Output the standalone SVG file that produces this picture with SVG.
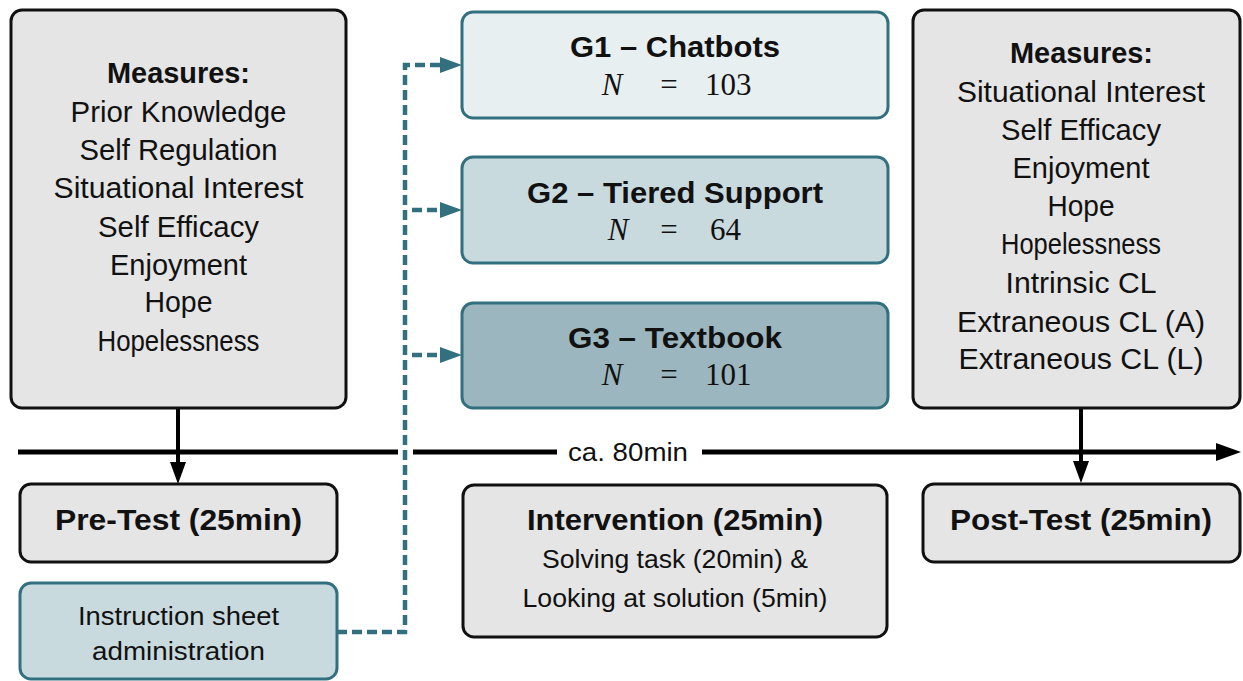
<svg xmlns="http://www.w3.org/2000/svg" width="1243" height="681" viewBox="0 0 1243 681">
<defs>
<style>
.box{fill:#e5e5e5;stroke:#111;stroke-width:3}
.tbox{stroke:#33707f;stroke-width:3}
.t{font-family:"Liberation Sans",Arial,sans-serif;font-size:29px;fill:#111;text-anchor:middle}
.b{font-weight:bold}
.s{font-size:25px}
.m{font-family:"Liberation Serif","Times New Roman",serif;font-size:31px;fill:#111}
.dash{fill:none;stroke:#33707f;stroke-width:4.5;stroke-dasharray:10 5}
.blk{fill:none;stroke:#000;stroke-width:4}
.tl{fill:none;stroke:#000;stroke-width:5}
</style>
<marker id="ahT" viewBox="0 0 22 16" refX="0" refY="8" markerWidth="22" markerHeight="16" markerUnits="userSpaceOnUse" orient="auto"><path d="M0,0 L22,8 L0,16 z" fill="#33707f"/></marker>
<marker id="ahB" viewBox="0 0 22 16" refX="0" refY="8" markerWidth="22" markerHeight="16" markerUnits="userSpaceOnUse" orient="auto"><path d="M0,0 L22,8 L0,16 z" fill="#000"/></marker>
</defs>
<rect width="1243" height="681" fill="#fff"/>

<g id="connectors">
<line class="tl" x1="18" y1="452" x2="398" y2="452"/>
<line class="tl" x1="413" y1="452" x2="557" y2="452"/>
<line class="tl" x1="702" y1="452" x2="1218" y2="452"/>
<polygon points="1216,443 1241,452 1216,461" fill="#000"/>
<text class="t" x="628" y="461" style="font-size:26px" textLength="120" lengthAdjust="spacingAndGlyphs">ca. 80min</text>
<path class="dash" d="M337,632 H405 V65 H440" marker-end="url(#ahT)"/>
<path class="dash" d="M412,210 H440" marker-end="url(#ahT)"/>
<path class="dash" d="M412,355 H440" marker-end="url(#ahT)"/>
<line class="blk" x1="178" y1="408" x2="178" y2="462" marker-end="url(#ahB)"/>
<line class="blk" x1="1081" y1="408" x2="1081" y2="461" marker-end="url(#ahB)"/>
</g>

<g id="pre-measures">
<rect class="box" x="11" y="10" width="335" height="398" rx="11"/>
<text class="t b" x="178.5" y="83" textLength="143" lengthAdjust="spacingAndGlyphs">Measures:</text>
<text class="t" x="178.5" y="122" textLength="216" lengthAdjust="spacingAndGlyphs">Prior Knowledge</text>
<text class="t" x="178.5" y="160" textLength="198" lengthAdjust="spacingAndGlyphs">Self Regulation</text>
<text class="t" x="178.5" y="198" textLength="250" lengthAdjust="spacingAndGlyphs">Situational Interest</text>
<text class="t" x="178.5" y="237" textLength="161" lengthAdjust="spacingAndGlyphs">Self Efficacy</text>
<text class="t" x="178.5" y="275" textLength="137" lengthAdjust="spacingAndGlyphs">Enjoyment</text>
<text class="t" x="178.5" y="312" textLength="68" lengthAdjust="spacingAndGlyphs">Hope</text>
<text class="t" x="178.5" y="351" textLength="162" lengthAdjust="spacingAndGlyphs">Hopelessness</text>
</g>

<g id="g1">
<rect class="tbox" x="462" y="12" width="426" height="106" rx="11" fill="#e8eff1"/>
<text class="t b" x="675" y="57" textLength="210" lengthAdjust="spacingAndGlyphs">G1 – Chatbots</text>
<text class="m" x="612" y="95" text-anchor="middle" font-style="italic">N</text>
<text class="m" x="669" y="95" text-anchor="middle">=</text>
<text class="m" x="705" y="95">103</text>
</g>

<g id="g2">
<rect class="tbox" x="462" y="157" width="426" height="106" rx="11" fill="#c9dadf"/>
<text class="t b" x="675" y="203" textLength="296" lengthAdjust="spacingAndGlyphs">G2 – Tiered Support</text>
<text class="m" x="618" y="240" text-anchor="middle" font-style="italic">N</text>
<text class="m" x="669" y="240" text-anchor="middle">=</text>
<text class="m" x="710" y="240">64</text>
</g>

<g id="g3">
<rect class="tbox" x="462" y="303" width="426" height="105" rx="11" fill="#9bb6be"/>
<text class="t b" x="675" y="348" textLength="214" lengthAdjust="spacingAndGlyphs">G3 – Textbook</text>
<text class="m" x="612" y="385" text-anchor="middle" font-style="italic">N</text>
<text class="m" x="669" y="385" text-anchor="middle">=</text>
<text class="m" x="705" y="385">101</text>
</g>

<g id="post-measures">
<rect class="box" x="913" y="10" width="327" height="398" rx="11"/>
<text class="t b" x="1081.5" y="63" textLength="143" lengthAdjust="spacingAndGlyphs">Measures:</text>
<text class="t" x="1081" y="102" textLength="248" lengthAdjust="spacingAndGlyphs">Situational Interest</text>
<text class="t" x="1081" y="140" textLength="160" lengthAdjust="spacingAndGlyphs">Self Efficacy</text>
<text class="t" x="1081" y="178" textLength="137" lengthAdjust="spacingAndGlyphs">Enjoyment</text>
<text class="t" x="1081" y="216" textLength="67" lengthAdjust="spacingAndGlyphs">Hope</text>
<text class="t" x="1081" y="254" textLength="160" lengthAdjust="spacingAndGlyphs">Hopelessness</text>
<text class="t" x="1081" y="293" textLength="151" lengthAdjust="spacingAndGlyphs">Intrinsic CL</text>
<text class="t" x="1081" y="332" textLength="248" lengthAdjust="spacingAndGlyphs">Extraneous CL (A)</text>
<text class="t" x="1081" y="369" textLength="245" lengthAdjust="spacingAndGlyphs">Extraneous CL (L)</text>
</g>

<g id="pre-test">
<rect class="box" x="20" y="484" width="317" height="78" rx="11"/>
<text class="t b" x="178.5" y="530" textLength="247" lengthAdjust="spacingAndGlyphs">Pre-Test (25min)</text>
</g>

<g id="instruction">
<rect class="tbox" x="20" y="583" width="317" height="96" rx="11" fill="#c9dadf"/>
<text class="t" x="178.5" y="625" style="font-size:26px" textLength="201" lengthAdjust="spacingAndGlyphs">Instruction sheet</text>
<text class="t" x="178.5" y="660" style="font-size:26px" textLength="173" lengthAdjust="spacingAndGlyphs">administration</text>
</g>

<g id="intervention">
<rect class="box" x="463" y="485" width="424" height="152" rx="11"/>
<text class="t b" x="675" y="530" textLength="296" lengthAdjust="spacingAndGlyphs">Intervention (25min)</text>
<text class="t s" x="675" y="568" textLength="266" lengthAdjust="spacingAndGlyphs">Solving task (20min) &amp;</text>
<text class="t s" x="675" y="607" textLength="305" lengthAdjust="spacingAndGlyphs">Looking at solution (5min)</text>
</g>

<g id="post-test">
<rect class="box" x="923" y="484" width="317" height="78" rx="11"/>
<text class="t b" x="1081" y="530" textLength="262" lengthAdjust="spacingAndGlyphs">Post-Test (25min)</text>
</g>
</svg>
